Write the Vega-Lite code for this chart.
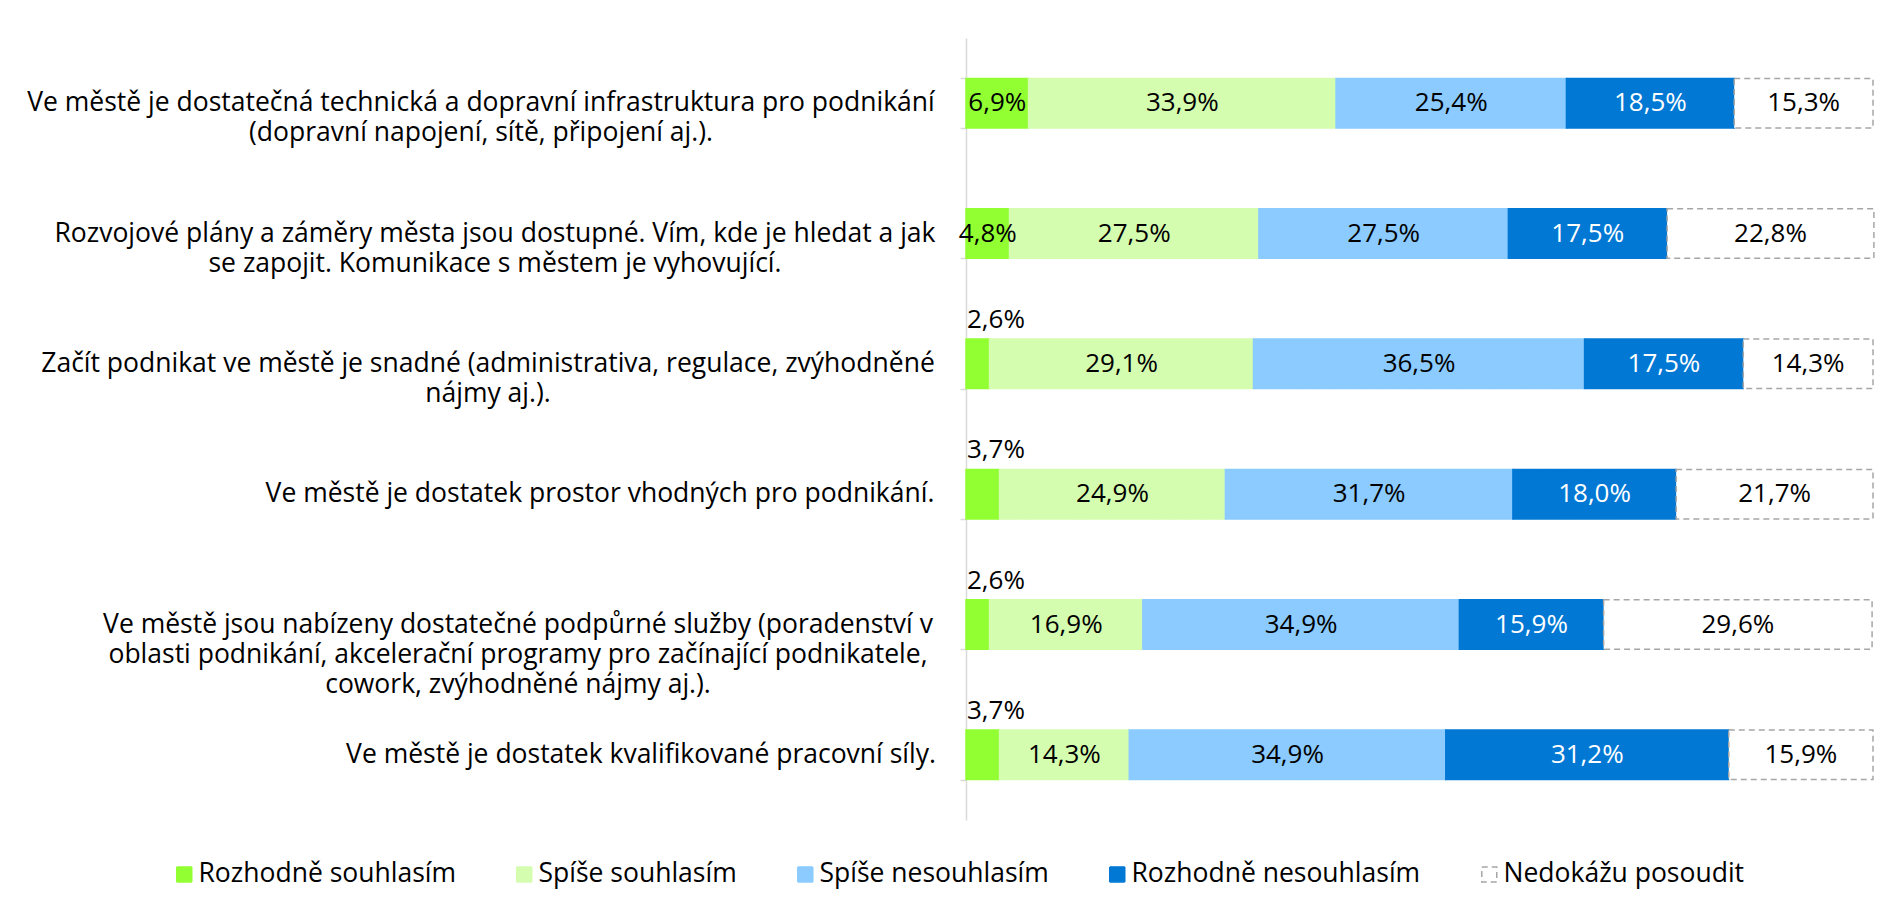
{
  "$schema": "https://vega.github.io/schema/vega-lite/v6.json",
  "width": 907,
  "height": 782,
  "autosize": {"type": "none"},
  "padding": {"left": 966, "top": 38, "right": 8, "bottom": 90},
  "background": "white",
  "config": {"view": {"stroke": null}, "font": "Open Sans"},
  "data": {"values": [
    {"q": "Ve městě je dostatečná technická a dopravní infrastruktura pro podnikání|(dopravní napojení, sítě, připojení aj.).", "cat": "Rozhodně souhlasím", "value": 6.9},
    {"q": "Ve městě je dostatečná technická a dopravní infrastruktura pro podnikání|(dopravní napojení, sítě, připojení aj.).", "cat": "Spíše souhlasím", "value": 33.9},
    {"q": "Ve městě je dostatečná technická a dopravní infrastruktura pro podnikání|(dopravní napojení, sítě, připojení aj.).", "cat": "Spíše nesouhlasím", "value": 25.4},
    {"q": "Ve městě je dostatečná technická a dopravní infrastruktura pro podnikání|(dopravní napojení, sítě, připojení aj.).", "cat": "Rozhodně nesouhlasím", "value": 18.5},
    {"q": "Ve městě je dostatečná technická a dopravní infrastruktura pro podnikání|(dopravní napojení, sítě, připojení aj.).", "cat": "Nedokážu posoudit", "value": 15.3},
    {"q": "Rozvojové plány a záměry města jsou dostupné. Vím, kde je hledat a jak|se zapojit. Komunikace s městem je vyhovující.", "cat": "Rozhodně souhlasím", "value": 4.8},
    {"q": "Rozvojové plány a záměry města jsou dostupné. Vím, kde je hledat a jak|se zapojit. Komunikace s městem je vyhovující.", "cat": "Spíše souhlasím", "value": 27.5},
    {"q": "Rozvojové plány a záměry města jsou dostupné. Vím, kde je hledat a jak|se zapojit. Komunikace s městem je vyhovující.", "cat": "Spíše nesouhlasím", "value": 27.5},
    {"q": "Rozvojové plány a záměry města jsou dostupné. Vím, kde je hledat a jak|se zapojit. Komunikace s městem je vyhovující.", "cat": "Rozhodně nesouhlasím", "value": 17.5},
    {"q": "Rozvojové plány a záměry města jsou dostupné. Vím, kde je hledat a jak|se zapojit. Komunikace s městem je vyhovující.", "cat": "Nedokážu posoudit", "value": 22.8},
    {"q": "Začít podnikat ve městě je snadné (administrativa, regulace, zvýhodněné|nájmy aj.).", "cat": "Rozhodně souhlasím", "value": 2.6},
    {"q": "Začít podnikat ve městě je snadné (administrativa, regulace, zvýhodněné|nájmy aj.).", "cat": "Spíše souhlasím", "value": 29.1},
    {"q": "Začít podnikat ve městě je snadné (administrativa, regulace, zvýhodněné|nájmy aj.).", "cat": "Spíše nesouhlasím", "value": 36.5},
    {"q": "Začít podnikat ve městě je snadné (administrativa, regulace, zvýhodněné|nájmy aj.).", "cat": "Rozhodně nesouhlasím", "value": 17.5},
    {"q": "Začít podnikat ve městě je snadné (administrativa, regulace, zvýhodněné|nájmy aj.).", "cat": "Nedokážu posoudit", "value": 14.3},
    {"q": "Ve městě je dostatek prostor vhodných pro podnikání.", "cat": "Rozhodně souhlasím", "value": 3.7},
    {"q": "Ve městě je dostatek prostor vhodných pro podnikání.", "cat": "Spíše souhlasím", "value": 24.9},
    {"q": "Ve městě je dostatek prostor vhodných pro podnikání.", "cat": "Spíše nesouhlasím", "value": 31.7},
    {"q": "Ve městě je dostatek prostor vhodných pro podnikání.", "cat": "Rozhodně nesouhlasím", "value": 18.0},
    {"q": "Ve městě je dostatek prostor vhodných pro podnikání.", "cat": "Nedokážu posoudit", "value": 21.7},
    {"q": "Ve městě jsou nabízeny dostatečné podpůrné služby (poradenství v|oblasti podnikání, akcelerační programy pro začínající podnikatele,|cowork, zvýhodněné nájmy aj.).", "cat": "Rozhodně souhlasím", "value": 2.6},
    {"q": "Ve městě jsou nabízeny dostatečné podpůrné služby (poradenství v|oblasti podnikání, akcelerační programy pro začínající podnikatele,|cowork, zvýhodněné nájmy aj.).", "cat": "Spíše souhlasím", "value": 16.9},
    {"q": "Ve městě jsou nabízeny dostatečné podpůrné služby (poradenství v|oblasti podnikání, akcelerační programy pro začínající podnikatele,|cowork, zvýhodněné nájmy aj.).", "cat": "Spíše nesouhlasím", "value": 34.9},
    {"q": "Ve městě jsou nabízeny dostatečné podpůrné služby (poradenství v|oblasti podnikání, akcelerační programy pro začínající podnikatele,|cowork, zvýhodněné nájmy aj.).", "cat": "Rozhodně nesouhlasím", "value": 15.9},
    {"q": "Ve městě jsou nabízeny dostatečné podpůrné služby (poradenství v|oblasti podnikání, akcelerační programy pro začínající podnikatele,|cowork, zvýhodněné nájmy aj.).", "cat": "Nedokážu posoudit", "value": 29.6},
    {"q": "Ve městě je dostatek kvalifikované pracovní síly.", "cat": "Rozhodně souhlasím", "value": 3.7},
    {"q": "Ve městě je dostatek kvalifikované pracovní síly.", "cat": "Spíše souhlasím", "value": 14.3},
    {"q": "Ve městě je dostatek kvalifikované pracovní síly.", "cat": "Spíše nesouhlasím", "value": 34.9},
    {"q": "Ve městě je dostatek kvalifikované pracovní síly.", "cat": "Rozhodně nesouhlasím", "value": 31.2},
    {"q": "Ve městě je dostatek kvalifikované pracovní síly.", "cat": "Nedokážu posoudit", "value": 15.9}
  ]},
  "transform": [
    {"calculate": "indexof(['Rozhodně souhlasím','Spíše souhlasím','Spíše nesouhlasím','Rozhodně nesouhlasím','Nedokážu posoudit'], datum.cat)", "as": "ord"},
    {"stack": "value", "groupby": ["q"], "sort": [{"field": "ord", "order": "ascending"}], "as": ["x0", "x1"]},
    {"calculate": "(datum.x0 + datum.x1) / 2", "as": "mid"},
    {"calculate": "replace(format(datum.value, '.1f'), '.', ',') + '%'", "as": "lbl"},
    {"calculate": "split(datum.q, '|')", "as": "qlines"}
  ],
  "encoding": {
    "y": {
      "field": "q", "type": "nominal", "sort": null,
      "scale": {"paddingInner": 0.62, "paddingOuter": 0.31},
      "axis": {
        "title": null,
        "labels": false,
        "domainColor": "#d9d9d9",
        "domainWidth": 1.5,
        "tickColor": "#d9d9d9",
        "tickWidth": 1.5,
        "tickBand": "extent",
        "tickSize": 6
      }
    }
  },
  "layer": [
    {
      "mark": {"type": "bar", "strokeWidth": 1.5},
      "encoding": {
        "x": {"field": "x0", "type": "quantitative", "scale": {"domain": [0, 100], "nice": false}, "axis": null},
        "x2": {"field": "x1"},
        "fill": {
          "field": "cat", "type": "nominal",
          "scale": {"domain": ["Rozhodně souhlasím", "Spíše souhlasím", "Spíše nesouhlasím", "Rozhodně nesouhlasím", "Nedokážu posoudit"],
                    "range": ["#92FF33", "#D5FDB0", "#8BCBFF", "#0078D4", "#FFFFFF"]},
          "legend": {
            "orient": "none", "legendX": -795, "legendY": 823, "direction": "horizontal",
            "title": null, "symbolType": "square", "symbolSize": 225, "symbolStrokeWidth": 1.5,
            "labelFontSize": 26.5, "labelColor": "black", "labelOffset": 1, "columnPadding": 55, "labelLimit": 0
          }
        },
        "stroke": {
          "field": "cat", "type": "nominal",
          "scale": {"domain": ["Rozhodně souhlasím", "Spíše souhlasím", "Spíše nesouhlasím", "Rozhodně nesouhlasím", "Nedokážu posoudit"],
                    "range": ["#92FF33", "#D5FDB0", "#8BCBFF", "#0078D4", "#A6A6A6"]}
        },
        "strokeDash": {
          "field": "cat", "type": "nominal",
          "scale": {"domain": ["Rozhodně souhlasím", "Spíše souhlasím", "Spíše nesouhlasím", "Rozhodně nesouhlasím", "Nedokážu posoudit"],
                    "range": [[1, 0], [1, 0], [1, 0], [1, 0], [6, 4]]}
        }
      }
    },
    {
      "transform": [{"filter": "!(datum.ord == 0 && datum.value < 4)"}],
      "mark": {"type": "text", "fontSize": 26, "baseline": "middle"},
      "encoding": {
        "x": {"field": "mid", "type": "quantitative"},
        "text": {"field": "lbl"},
        "color": {"condition": {"test": "datum.ord == 3", "value": "white"}, "value": "black"}
      }
    },
    {
      "transform": [{"filter": "datum.ord == 0 && datum.value < 4"}],
      "mark": {"type": "text", "fontSize": 26, "baseline": "middle", "align": "left", "dx": 1, "dy": -44, "color": "black"},
      "encoding": {
        "x": {"field": "x0", "type": "quantitative"},
        "text": {"field": "lbl"}
      }
    },
    {
      "transform": [{"filter": "datum.ord == 0"}],
      "mark": {
        "type": "text", "fontSize": 26.5, "lineHeight": 30, "align": "center", "baseline": "middle", "color": "black",
        "dx": {"expr": "indexof(datum.q, 'Ve městě je dostatečná') == 0 ? -485 : indexof(datum.q, 'Rozvojové') == 0 ? -471 : indexof(datum.q, 'Začít') == 0 ? -478 : indexof(datum.q, 'Ve městě je dostatek prostor') == 0 ? -366 : indexof(datum.q, 'Ve městě jsou') == 0 ? -448 : -325"}
      },
      "encoding": {
        "x": {"datum": 0, "type": "quantitative"},
        "text": {"field": "qlines"}
      }
    }
  ]
}
